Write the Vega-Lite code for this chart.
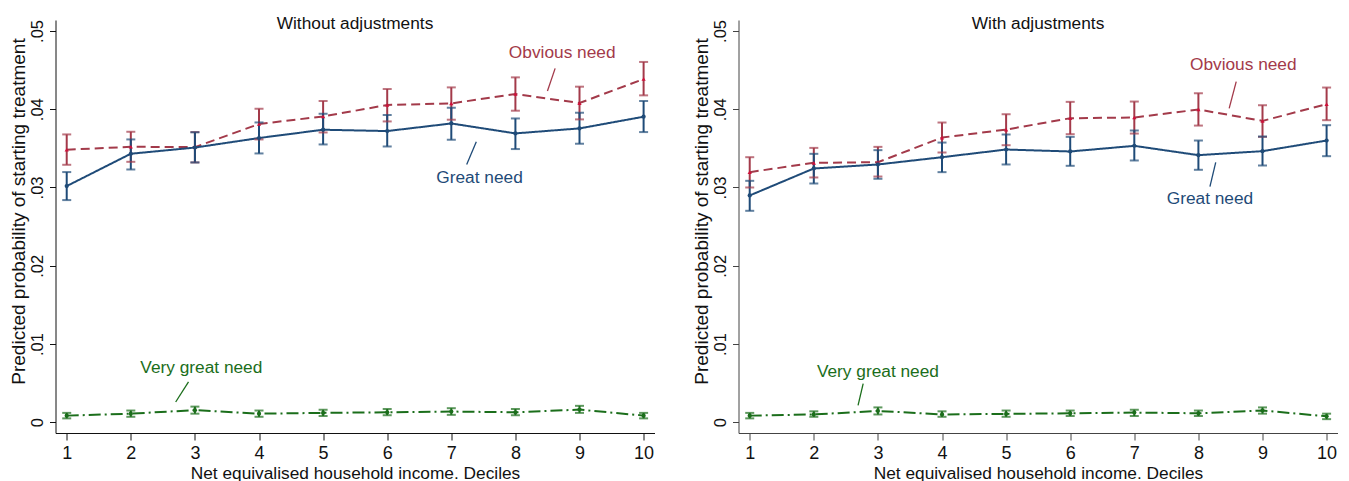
{
  "$schema": "https://vega.github.io/schema/vega-lite/v6.json",
  "background": "white",
  "padding": {"left": 9.5, "top": 15, "right": 5, "bottom": 0},
  "spacing": 38,
  "config": {
    "view": {"stroke": null},
    "font": "Liberation Sans",
    "axis": {"grid": false, "domainColor": "#111", "tickColor": "#111", "labelColor": "#111", "titleColor": "#111", "titleFontWeight": "normal", "labelFont": "Liberation Sans", "titleFont": "Liberation Sans"},
    "title": {"fontWeight": "normal", "font": "Liberation Sans", "color": "#111"}
  },
  "datasets": {
    "pts": [
      {"panel": "L", "series": "Obvious need", "x": 1, "y": 0.03482, "lo": 0.0329, "hi": 0.03678},
      {"panel": "L", "series": "Obvious need", "x": 2, "y": 0.0352, "lo": 0.03328, "hi": 0.03712},
      {"panel": "L", "series": "Obvious need", "x": 3, "y": 0.03516, "lo": 0.0332, "hi": 0.03708},
      {"panel": "L", "series": "Obvious need", "x": 4, "y": 0.03811, "lo": 0.03614, "hi": 0.04006},
      {"panel": "L", "series": "Obvious need", "x": 5, "y": 0.03908, "lo": 0.03703, "hi": 0.04105},
      {"panel": "L", "series": "Obvious need", "x": 6, "y": 0.04054, "lo": 0.03844, "hi": 0.04258},
      {"panel": "L", "series": "Obvious need", "x": 7, "y": 0.04074, "lo": 0.03866, "hi": 0.04279},
      {"panel": "L", "series": "Obvious need", "x": 8, "y": 0.04194, "lo": 0.03981, "hi": 0.04407},
      {"panel": "L", "series": "Obvious need", "x": 9, "y": 0.04079, "lo": 0.0387, "hi": 0.04288},
      {"panel": "L", "series": "Obvious need", "x": 10, "y": 0.04386, "lo": 0.04177, "hi": 0.04604},
      {"panel": "L", "series": "Great need", "x": 1, "y": 0.03018, "lo": 0.02839, "hi": 0.03197},
      {"panel": "L", "series": "Great need", "x": 2, "y": 0.03431, "lo": 0.0323, "hi": 0.03614},
      {"panel": "L", "series": "Great need", "x": 3, "y": 0.0351, "lo": 0.0332, "hi": 0.03705},
      {"panel": "L", "series": "Great need", "x": 4, "y": 0.03632, "lo": 0.03435, "hi": 0.03831},
      {"panel": "L", "series": "Great need", "x": 5, "y": 0.03738, "lo": 0.0355, "hi": 0.03942},
      {"panel": "L", "series": "Great need", "x": 6, "y": 0.03721, "lo": 0.03524, "hi": 0.03926},
      {"panel": "L", "series": "Great need", "x": 7, "y": 0.03818, "lo": 0.0361, "hi": 0.04019},
      {"panel": "L", "series": "Great need", "x": 8, "y": 0.03691, "lo": 0.03491, "hi": 0.03882},
      {"panel": "L", "series": "Great need", "x": 9, "y": 0.03755, "lo": 0.03559, "hi": 0.03955},
      {"panel": "L", "series": "Great need", "x": 10, "y": 0.03904, "lo": 0.03708, "hi": 0.04105},
      {"panel": "L", "series": "Very great need", "x": 1, "y": 0.00085, "lo": 0.0005, "hi": 0.0012},
      {"panel": "L", "series": "Very great need", "x": 2, "y": 0.0011, "lo": 0.0007, "hi": 0.0015},
      {"panel": "L", "series": "Very great need", "x": 3, "y": 0.00155, "lo": 0.0011, "hi": 0.002},
      {"panel": "L", "series": "Very great need", "x": 4, "y": 0.0011, "lo": 0.0007, "hi": 0.0015},
      {"panel": "L", "series": "Very great need", "x": 5, "y": 0.0012, "lo": 0.0008, "hi": 0.0016},
      {"panel": "L", "series": "Very great need", "x": 6, "y": 0.00128, "lo": 0.0009, "hi": 0.0017},
      {"panel": "L", "series": "Very great need", "x": 7, "y": 0.00137, "lo": 0.00095, "hi": 0.0018},
      {"panel": "L", "series": "Very great need", "x": 8, "y": 0.00128, "lo": 0.0009, "hi": 0.0017},
      {"panel": "L", "series": "Very great need", "x": 9, "y": 0.00162, "lo": 0.0012, "hi": 0.0021},
      {"panel": "L", "series": "Very great need", "x": 10, "y": 0.00085, "lo": 0.0005, "hi": 0.0012},
      {"panel": "R", "series": "Obvious need", "x": 1, "y": 0.03196, "lo": 0.03, "hi": 0.03387},
      {"panel": "R", "series": "Obvious need", "x": 2, "y": 0.03315, "lo": 0.03128, "hi": 0.03506},
      {"panel": "R", "series": "Obvious need", "x": 3, "y": 0.03323, "lo": 0.0314, "hi": 0.03519},
      {"panel": "R", "series": "Obvious need", "x": 4, "y": 0.03638, "lo": 0.03447, "hi": 0.0383},
      {"panel": "R", "series": "Obvious need", "x": 5, "y": 0.0374, "lo": 0.0354, "hi": 0.03936},
      {"panel": "R", "series": "Obvious need", "x": 6, "y": 0.03885, "lo": 0.03681, "hi": 0.04094},
      {"panel": "R", "series": "Obvious need", "x": 7, "y": 0.03894, "lo": 0.03689, "hi": 0.04098},
      {"panel": "R", "series": "Obvious need", "x": 8, "y": 0.03996, "lo": 0.03791, "hi": 0.04204},
      {"panel": "R", "series": "Obvious need", "x": 9, "y": 0.03851, "lo": 0.03647, "hi": 0.04051},
      {"panel": "R", "series": "Obvious need", "x": 10, "y": 0.04064, "lo": 0.0386, "hi": 0.04277},
      {"panel": "R", "series": "Great need", "x": 1, "y": 0.02898, "lo": 0.02702, "hi": 0.03085},
      {"panel": "R", "series": "Great need", "x": 2, "y": 0.03243, "lo": 0.03051, "hi": 0.0343},
      {"panel": "R", "series": "Great need", "x": 3, "y": 0.03294, "lo": 0.03111, "hi": 0.03477},
      {"panel": "R", "series": "Great need", "x": 4, "y": 0.03387, "lo": 0.03196, "hi": 0.03574},
      {"panel": "R", "series": "Great need", "x": 5, "y": 0.03485, "lo": 0.03294, "hi": 0.03677},
      {"panel": "R", "series": "Great need", "x": 6, "y": 0.0346, "lo": 0.03277, "hi": 0.03647},
      {"panel": "R", "series": "Great need", "x": 7, "y": 0.03532, "lo": 0.03345, "hi": 0.03728},
      {"panel": "R", "series": "Great need", "x": 8, "y": 0.03413, "lo": 0.03226, "hi": 0.036},
      {"panel": "R", "series": "Great need", "x": 9, "y": 0.03464, "lo": 0.03281, "hi": 0.03651},
      {"panel": "R", "series": "Great need", "x": 10, "y": 0.036, "lo": 0.034, "hi": 0.03796},
      {"panel": "R", "series": "Very great need", "x": 1, "y": 0.00085, "lo": 0.0005, "hi": 0.0012},
      {"panel": "R", "series": "Very great need", "x": 2, "y": 0.001, "lo": 0.0007, "hi": 0.0014},
      {"panel": "R", "series": "Very great need", "x": 3, "y": 0.00145, "lo": 0.001, "hi": 0.0019},
      {"panel": "R", "series": "Very great need", "x": 4, "y": 0.001, "lo": 0.0007, "hi": 0.0014},
      {"panel": "R", "series": "Very great need", "x": 5, "y": 0.00107, "lo": 0.0007, "hi": 0.0015},
      {"panel": "R", "series": "Very great need", "x": 6, "y": 0.00115, "lo": 0.0008, "hi": 0.0015},
      {"panel": "R", "series": "Very great need", "x": 7, "y": 0.00124, "lo": 0.0008, "hi": 0.0016},
      {"panel": "R", "series": "Very great need", "x": 8, "y": 0.00115, "lo": 0.0008, "hi": 0.0015},
      {"panel": "R", "series": "Very great need", "x": 9, "y": 0.0015, "lo": 0.0011, "hi": 0.0019},
      {"panel": "R", "series": "Very great need", "x": 10, "y": 0.00077, "lo": 0.0004, "hi": 0.0011}
    ],
    "labels": [
      {"panel": "L", "series": "Obvious need", "x": 8.73, "y": 0.04714},
      {"panel": "L", "series": "Great need", "x": 7.44, "y": 0.03115},
      {"panel": "L", "series": "Very great need", "x": 3.1, "y": 0.00694},
      {"panel": "R", "series": "Obvious need", "x": 8.7, "y": 0.04565},
      {"panel": "R", "series": "Great need", "x": 8.18, "y": 0.02859},
      {"panel": "R", "series": "Very great need", "x": 3.0, "y": 0.00643}
    ],
    "ptrs": [
      {"panel": "L", "series": "Obvious need", "x": 8.62, "y": 0.04522, "x2": 8.5, "y2": 0.04233},
      {"panel": "L", "series": "Great need", "x": 7.39, "y": 0.03584, "x2": 7.24, "y2": 0.03294},
      {"panel": "L", "series": "Very great need", "x": 2.9, "y": 0.00515, "x2": 2.7, "y2": 0.00259},
      {"panel": "R", "series": "Obvious need", "x": 8.59, "y": 0.04352, "x2": 8.48, "y2": 0.0401},
      {"panel": "R", "series": "Great need", "x": 8.27, "y": 0.0332, "x2": 8.18, "y2": 0.0301},
      {"panel": "R", "series": "Very great need", "x": 2.77, "y": 0.00494, "x2": 2.69, "y2": 0.00217}
    ]
  },
  "hconcat": [
    {
      "width": 599,
      "height": 413,
      "title": {"text": "Without adjustments", "fontSize": 17.3, "offset": -13, "anchor": "middle"},
      "encoding": {
        "x": {"field": "x", "type": "quantitative", "scale": {"domain": [0.825, 10.17], "nice": false, "zero": false},
          "axis": {"values": [1,2,3,4,5,6,7,8,9,10], "format": "d", "tickSize": 7, "labelPadding": 4, "labelFontSize": 18, "titleFontSize": 17.3, "titlePadding": 2, "title": "Net equivalised household income. Deciles"}},
        "y": {"field": "y", "type": "quantitative", "scale": {"domain": [-0.00137, 0.0514], "nice": false, "zero": false},
          "axis": {"values": [0, 0.01, 0.02, 0.03, 0.04, 0.05], "labelExpr": "datum.value == 0 ? '0' : replace(format(datum.value, '.2f'), '0.', '.')", "tickSize": 6, "labelAngle": -90, "labelAlign": "center", "labelBaseline": "bottom", "labelPadding": 4, "labelFontSize": 16.5, "titleFontSize": 19, "titleX": -31, "titleY": 191, "titleAlign": "center", "titleBaseline": "alphabetic", "title": "Predicted probability of starting treatment"}}
      },
      "layer": [
        {"data": {"name": "pts"}, "transform": [{"filter": "datum.panel == 'L'"}],
          "mark": {"type": "line", "strokeWidth": 2},
          "encoding": {
            "color": {"field": "series", "type": "nominal", "legend": null, "scale": {"domain": ["Obvious need", "Great need", "Very great need"], "range": ["#a33a4a", "#1f4b78", "#1b6e1b"]}},
            "strokeDash": {"field": "series", "type": "nominal", "legend": null, "scale": {"domain": ["Obvious need", "Great need", "Very great need"], "range": [[9, 5], [1, 0], [12, 4, 2, 4]]}}
          }},
        {"data": {"name": "pts"}, "transform": [{"filter": "datum.panel == 'L'"}],
          "mark": {"type": "rule", "strokeWidth": 2},
          "encoding": {"y": {"field": "lo", "type": "quantitative"}, "y2": {"field": "hi"}, "color": {"field": "series", "type": "nominal", "legend": null}}},
        {"data": {"name": "pts"}, "transform": [{"filter": "datum.panel == 'L'"}],
          "mark": {"type": "tick", "orient": "horizontal", "size": 9, "thickness": 2},
          "encoding": {"y": {"field": "lo", "type": "quantitative"}, "color": {"field": "series", "type": "nominal", "legend": null}}},
        {"data": {"name": "pts"}, "transform": [{"filter": "datum.panel == 'L'"}],
          "mark": {"type": "tick", "orient": "horizontal", "size": 9, "thickness": 2},
          "encoding": {"y": {"field": "hi", "type": "quantitative"}, "color": {"field": "series", "type": "nominal", "legend": null}}},
        {"data": {"name": "pts"}, "transform": [{"filter": "datum.panel == 'L'"}],
          "mark": {"type": "point", "filled": true, "size": 18, "opacity": 1},
          "encoding": {
            "fill": {"field": "series", "type": "nominal", "legend": null, "scale": {"domain": ["Obvious need", "Great need", "Very great need"], "range": ["#d0103a", "#1f4b78", "#1b6e1b"]}},
            "shape": {"field": "series", "type": "nominal", "legend": null, "scale": {"domain": ["Obvious need", "Great need", "Very great need"], "range": ["triangle-up", "circle", "circle"]}}
          }},
        {"data": {"name": "ptrs"}, "transform": [{"filter": "datum.panel == 'L'"}],
          "mark": {"type": "rule", "strokeWidth": 1.3},
          "encoding": {"x2": {"field": "x2"}, "y2": {"field": "y2"}, "color": {"field": "series", "type": "nominal", "legend": null}}},
        {"data": {"name": "labels"}, "transform": [{"filter": "datum.panel == 'L'"}],
          "mark": {"type": "text", "fontSize": 17.3, "align": "center", "baseline": "middle", "font": "Liberation Sans"},
          "encoding": {"text": {"field": "series"}, "color": {"field": "series", "type": "nominal", "legend": null}}}
      ]
    },
    {
      "width": 599,
      "height": 413,
      "title": {"text": "With adjustments", "fontSize": 17.3, "offset": -13, "anchor": "middle"},
      "encoding": {
        "x": {"field": "x", "type": "quantitative", "scale": {"domain": [0.825, 10.17], "nice": false, "zero": false},
          "axis": {"values": [1,2,3,4,5,6,7,8,9,10], "format": "d", "tickSize": 7, "labelPadding": 4, "labelFontSize": 18, "titleFontSize": 17.3, "titlePadding": 2, "title": "Net equivalised household income. Deciles", "domainColor": "#444", "tickColor": "#444"}},
        "y": {"field": "y", "type": "quantitative", "scale": {"domain": [-0.00137, 0.0514], "nice": false, "zero": false},
          "axis": {"values": [0, 0.01, 0.02, 0.03, 0.04, 0.05], "labelExpr": "datum.value == 0 ? '0' : replace(format(datum.value, '.2f'), '0.', '.')", "tickSize": 6, "labelAngle": -90, "labelAlign": "center", "labelBaseline": "bottom", "labelPadding": 4, "labelFontSize": 16.5, "titleFontSize": 19, "titleX": -31, "titleY": 191, "titleAlign": "center", "titleBaseline": "alphabetic", "title": "Predicted probability of starting treatment", "domainColor": "#444", "tickColor": "#444"}}
      },
      "layer": [
        {"data": {"name": "pts"}, "transform": [{"filter": "datum.panel == 'R'"}],
          "mark": {"type": "line", "strokeWidth": 2},
          "encoding": {
            "color": {"field": "series", "type": "nominal", "legend": null, "scale": {"domain": ["Obvious need", "Great need", "Very great need"], "range": ["#a33a4a", "#1f4b78", "#1b6e1b"]}},
            "strokeDash": {"field": "series", "type": "nominal", "legend": null, "scale": {"domain": ["Obvious need", "Great need", "Very great need"], "range": [[9, 5], [1, 0], [12, 4, 2, 4]]}}
          }},
        {"data": {"name": "pts"}, "transform": [{"filter": "datum.panel == 'R'"}],
          "mark": {"type": "rule", "strokeWidth": 2},
          "encoding": {"y": {"field": "lo", "type": "quantitative"}, "y2": {"field": "hi"}, "color": {"field": "series", "type": "nominal", "legend": null}}},
        {"data": {"name": "pts"}, "transform": [{"filter": "datum.panel == 'R'"}],
          "mark": {"type": "tick", "orient": "horizontal", "size": 9, "thickness": 2},
          "encoding": {"y": {"field": "lo", "type": "quantitative"}, "color": {"field": "series", "type": "nominal", "legend": null}}},
        {"data": {"name": "pts"}, "transform": [{"filter": "datum.panel == 'R'"}],
          "mark": {"type": "tick", "orient": "horizontal", "size": 9, "thickness": 2},
          "encoding": {"y": {"field": "hi", "type": "quantitative"}, "color": {"field": "series", "type": "nominal", "legend": null}}},
        {"data": {"name": "pts"}, "transform": [{"filter": "datum.panel == 'R'"}],
          "mark": {"type": "point", "filled": true, "size": 18, "opacity": 1},
          "encoding": {
            "fill": {"field": "series", "type": "nominal", "legend": null, "scale": {"domain": ["Obvious need", "Great need", "Very great need"], "range": ["#d0103a", "#1f4b78", "#1b6e1b"]}},
            "shape": {"field": "series", "type": "nominal", "legend": null, "scale": {"domain": ["Obvious need", "Great need", "Very great need"], "range": ["triangle-up", "circle", "circle"]}}
          }},
        {"data": {"name": "ptrs"}, "transform": [{"filter": "datum.panel == 'R'"}],
          "mark": {"type": "rule", "strokeWidth": 1.3},
          "encoding": {"x2": {"field": "x2"}, "y2": {"field": "y2"}, "color": {"field": "series", "type": "nominal", "legend": null}}},
        {"data": {"name": "labels"}, "transform": [{"filter": "datum.panel == 'R'"}],
          "mark": {"type": "text", "fontSize": 17.3, "align": "center", "baseline": "middle", "font": "Liberation Sans"},
          "encoding": {"text": {"field": "series"}, "color": {"field": "series", "type": "nominal", "legend": null}}}
      ]
    }
  ]
}
